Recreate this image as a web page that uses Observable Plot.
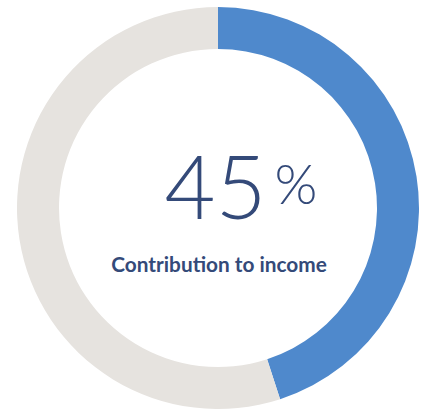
<!DOCTYPE html>
<html>
<head>
<meta charset="utf-8">
<script src="https://cdn.jsdelivr.net/npm/d3@7"></script>
<script src="https://cdn.jsdelivr.net/npm/@observablehq/plot@0.6"></script>
<style>
  html, body { margin: 0; padding: 0; background: #ffffff; }
  #chart { width: 421px; height: 409px; }
</style>
</head>
<body>
<div id="chart"></div>
<script>
const categories = ["Contribution to income", "Other"];
const values = [45, 55];
const colors = ["#4f89cc", "#e6e3df"];
const centerLabel = ["45"];
const centerUnit = ["%"];
const caption = ["Contribution to income"];

const data = categories.map((c, i) => ({category: c, value: values[i]}));

const W = 421, H = 409;
const cx = 218, cy = 208;
const outerR = 201, innerR = 159;
const navy = "#344a79";

function donut(index, scales) {
  const pie = d3.pie().value(d => d.value).sort(null);
  const arc = d3.arc().innerRadius(innerR).outerRadius(outerR);
  const g = d3.create("svg:g").attr("transform", `translate(${scales.x(cx)},${scales.y(cy)})`);
  g.selectAll("path")
    .data(pie(data))
    .join("path")
    .attr("d", arc)
    .attr("fill", d => scales.color(d.data.category));
  return g.node();
}

const chart = Plot.plot({
  width: W,
  height: H,
  margin: 0,
  x: {domain: [0, W], range: [0, W], axis: null},
  y: {domain: [0, H], range: [0, H], axis: null},
  color: {domain: categories, range: colors},
  style: {background: "#ffffff"},
  marks: [
    donut,
    Plot.text(centerLabel, {
      x: () => 164, y: () => 218.5,
      text: d => d,
      fontSize: 88,
      fontWeight: 300,
      fontFamily: "Lato",
      fill: navy,
      textAnchor: "start",
      lineAnchor: "bottom"
    }),
    Plot.text(centerUnit, {
      x: () => 274, y: () => 203,
      text: d => d,
      fontSize: 55,
      fontWeight: 300,
      fontFamily: "Lato",
      fill: navy,
      textAnchor: "start",
      lineAnchor: "bottom"
    }),
    Plot.text(caption, {
      x: () => 218.5, y: () => 271,
      text: d => d,
      fontSize: 20.8,
      fontWeight: 700,
      fontFamily: "Lato",
      fill: navy,
      textAnchor: "middle",
      lineAnchor: "bottom"
    })
  ]
});

document.getElementById("chart").appendChild(chart);
</script>
</body>
</html>
